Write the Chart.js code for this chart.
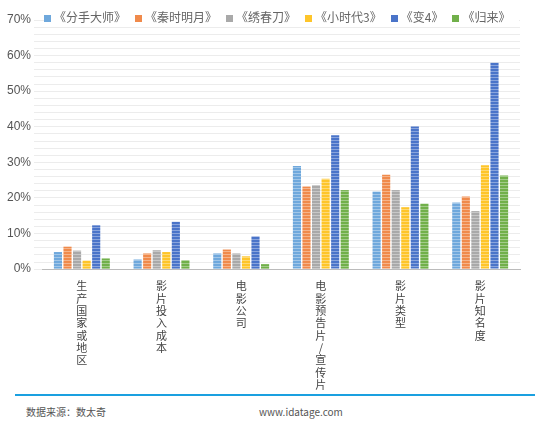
<!DOCTYPE html><html><head><meta charset="utf-8">
<script src="https://cdn.jsdelivr.net/npm/chart.js@4"></script>
<style>body{margin:0;background:#fff;font-family:"Noto Sans CJK SC";}#w{position:relative;width:550px;height:428px}
#c{position:absolute;left:0;top:0}.f{position:absolute;font-size:10px;color:#555}
#lg{position:absolute;left:44px;top:9px;font-size:12px;color:#666;white-space:nowrap;background:#fff;line-height:16px}
#lg span{display:inline-block;margin-right:9px}#lg i{display:inline-block;width:7px;height:7px;margin-right:3px;vertical-align:middle}</style></head><body>
<div id="w"><canvas id="c" width="550" height="394"></canvas><div id="lg"></div>
<div style="position:absolute;left:15px;top:394px;width:520px;height:2px;background:#1aa0e0"></div>
<div class="f" style="left:26px;top:404px">数据来源：数太奇</div>
<div class="f" style="left:259px;top:404px">www.idatage.com</div></div>
<script>
const categories=["生产国家或地区","影片投入成本","电影公司","电影预告片/宣传片","影片类型","影片知名度"];
const seriesNames=["《分手大师》","《秦时明月》","《绣春刀》","《小时代3》","《变4》","《归来》"];
const colors=["#6fa8dc","#f08a4b","#a9a9a9","#fec52a","#4a74c9","#71b04a"];
const s1=[4.8,2.7,4.4,29.0,21.8,18.7];
const s2=[6.3,4.4,5.5,23.2,26.5,20.4];
const s3=[5.2,5.3,4.4,23.6,22.2,16.3];
const s4=[2.4,4.8,3.6,25.4,17.4,29.2];
const s5=[12.3,13.3,9.2,37.6,40.1,58.0];
const s6=[3.0,2.5,1.4,22.2,18.4,26.3];
const series=[s1,s2,s3,s4,s5,s6];
document.getElementById('lg').innerHTML=seriesNames.map((n,i)=>`<span><i style="background:${colors[i]}"></i>${n}</span>`).join('');
function pat(col){const p=document.createElement('canvas');p.width=4;p.height=3;const g=p.getContext('2d');g.fillStyle=col;g.fillRect(0,0,4,3);g.fillStyle='rgba(255,255,255,0.35)';g.fillRect(0,2,4,1);return g.createPattern(p,'repeat');}
new Chart(document.getElementById('c'),{type:'bar',data:{labels:categories.map(c=>c.split('')),
datasets:series.map((d,i)=>({label:seriesNames[i],data:d,backgroundColor:pat(colors[i]),borderWidth:0,categoryPercentage:0.72,barPercentage:0.85}))},
options:{responsive:false,animation:false,layout:{padding:{top:20,right:30,left:4,bottom:0}},
plugins:{legend:{display:false},tooltip:{enabled:false}},
scales:{x:{grid:{display:false},border:{color:'#bbb'},ticks:{color:'#444',padding:3,font:{size:11,family:'Noto Sans CJK SC',lineHeight:1.12},maxRotation:0,autoSkip:false}},
y:{min:0,max:70,ticks:{stepSize:2,autoSkip:false,color:'#555',font:{size:12},callback:v=>v%10===0?v+'%':''},grid:{color:'#ececec'},border:{display:false}}}}});
</script></body></html>
